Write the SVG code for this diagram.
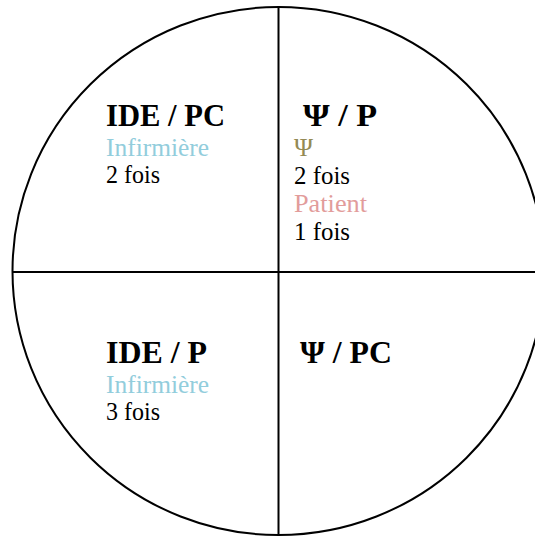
<svg xmlns="http://www.w3.org/2000/svg" width="535" height="536" viewBox="0 0 535 536">
<style>
.h{font-family:"Liberation Serif","Times New Roman",serif;font-weight:bold;font-size:32px;fill:#000}
.t{font-family:"Liberation Serif","Times New Roman",serif;font-size:25px;fill:#000}
.blue{fill:#92CDDC}
.olive{fill:#948A54}
.pink{fill:#E29C9B}
.ln{stroke:#000;stroke-width:2;fill:none}
</style>
<rect width="535" height="536" fill="#fff"/>
<g id="circle">
<ellipse class="ln" cx="278.5" cy="271" rx="266" ry="264"/>
</g>
<g id="connectors">
<line class="ln" x1="278.5" y1="7" x2="278.5" y2="536"/>
<line class="ln" x1="12.5" y1="272" x2="535" y2="272"/>
</g>
<g id="ide-pc">
<text class="h" x="106" y="126" textLength="119" lengthAdjust="spacingAndGlyphs">IDE / PC</text>
<text class="t blue" x="106" y="156" textLength="103" lengthAdjust="spacingAndGlyphs">Infirmière</text>
<text class="t" x="106" y="183" textLength="54" lengthAdjust="spacingAndGlyphs">2 fois</text>
</g>
<g id="psi-p">
<text class="h" x="303" y="126" textLength="74" lengthAdjust="spacingAndGlyphs">Ψ / P</text>
<text class="t olive" x="294" y="156" textLength="19" lengthAdjust="spacingAndGlyphs">Ψ</text>
<text class="t" x="294" y="184" textLength="56" lengthAdjust="spacingAndGlyphs">2 fois</text>
<text class="t pink" x="294" y="212" textLength="73" lengthAdjust="spacingAndGlyphs">Patient</text>
<text class="t" x="294" y="240" textLength="56" lengthAdjust="spacingAndGlyphs">1 fois</text>
</g>
<g id="ide-p">
<text class="h" x="106" y="363" textLength="101" lengthAdjust="spacingAndGlyphs">IDE / P</text>
<text class="t blue" x="106" y="393" textLength="103" lengthAdjust="spacingAndGlyphs">Infirmière</text>
<text class="t" x="106" y="420" textLength="54" lengthAdjust="spacingAndGlyphs">3 fois</text>
</g>
<g id="psi-pc">
<text class="h" x="300" y="363" textLength="92" lengthAdjust="spacingAndGlyphs">Ψ / PC</text>
</g>
</svg>
